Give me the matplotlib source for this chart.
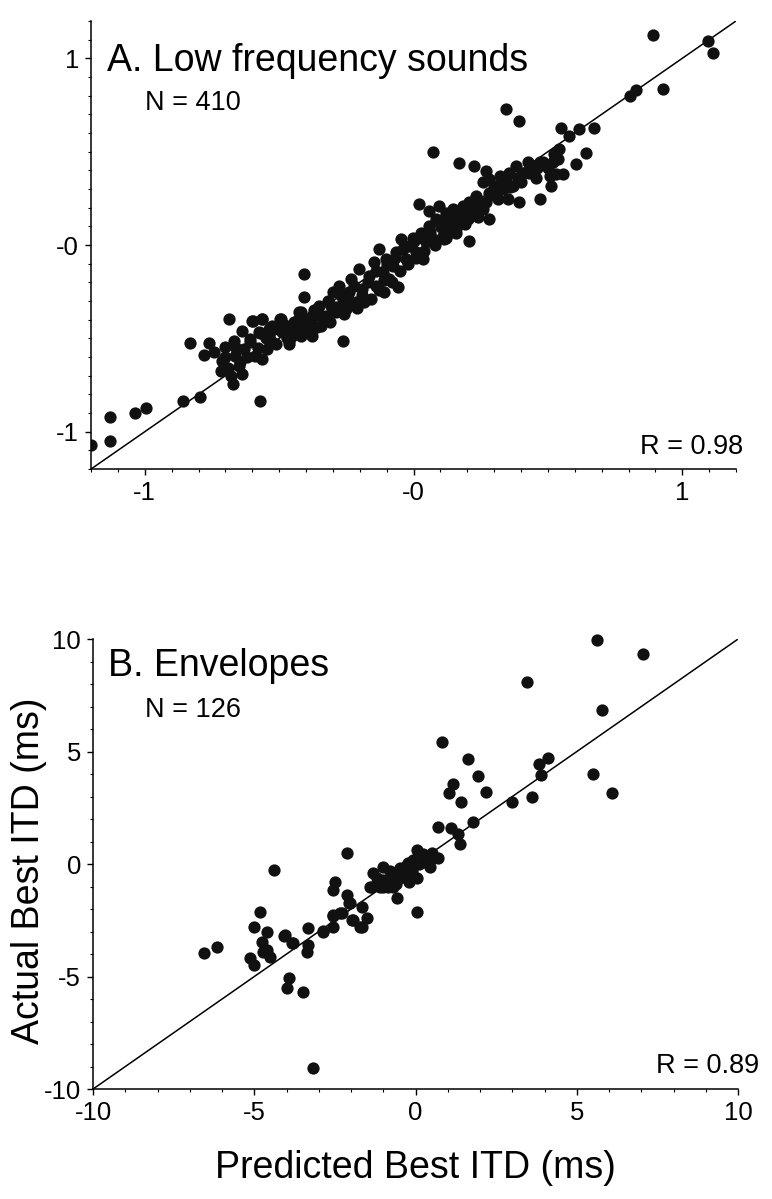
import numpy as np
import matplotlib
matplotlib.use("Agg")
import matplotlib.pyplot as plt

plt.rcParams["font.family"] = ["Liberation Sans", "DejaVu Sans"]
plt.rcParams["axes.unicode_minus"] = False

# A. Low frequency sounds (predicted vs actual best ITD, ms)
low_pred = [
    -1.20, -1.13, -1.13, -1.035, -0.996, -0.858, -0.795, -0.832, -0.686, -0.573,
    -0.672, -0.408, -0.407, -0.264,
    -0.762, -0.778, -0.743, -0.712, -0.718, -0.700, -0.669, -0.663, -0.681, -0.638,
    -0.644, -0.631, -0.638, -0.600, -0.563, -0.607, -0.588, -0.563, -0.545, -0.538,
    -0.526, -0.495, -0.501, -0.470, -0.464, -0.451, -0.433, -0.420, -0.408, -0.396,
    -0.377, -0.371, -0.358,
    -0.599, -0.562, -0.574, -0.537, -0.531, -0.494, -0.488, -0.463, -0.444, -0.425,
    -0.413, -0.382, -0.376, -0.351, -0.345, -0.326, -0.307, -0.301, -0.289, -0.276,
    -0.264, -0.251, -0.239, -0.233, -0.214, -0.202, -0.190, -0.183, -0.165, -0.146,
    -0.140, -0.127, -0.115, -0.109, -0.102, -0.090, -0.078, -0.059, -0.065, -0.047,
    -0.028, -0.016, -0.003, 0.009, 0.028, 0.034, 0.047, 0.059, 0.071, 0.084,
    0.102, 0.115, 0.121, 0.133, 0.146, 0.158, 0.171, 0.183, 0.201, 0.208,
    0.220, 0.233, 0.245,
    0.022, 0.059, 0.096, 0.208, 0.071, 0.345, 0.394,
    0.171, 0.226, 0.270, 0.257, 0.282, 0.121, 0.121, 0.146, 0.158, 0.196,
    0.257, 0.282, 0.282, 0.301, 0.313, 0.320, 0.332, 0.345, 0.351, 0.357,
    0.369, 0.382, 0.388, 0.394, 0.406, 0.425, 0.431, 0.450, 0.456, 0.469,
    0.469, 0.481, 0.506, 0.518, 0.524, 0.512, 0.531, 0.537, 0.543, 0.555,
    0.549, 0.580, 0.617, 0.673, 0.643, 0.603,
    0.804, 0.829, 0.930, 0.891, 1.095, 1.114,
    # dense core of the band
    -0.70, -0.69, -0.66, -0.65, -0.62, -0.61, -0.58, -0.57, -0.55, -0.52,
    -0.51, -0.49, -0.47, -0.45, -0.43, -0.42, -0.39, -0.37, -0.36, -0.34,
    -0.32, -0.31, -0.29, -0.27, -0.26, -0.24, -0.22, -0.21, -0.19, -0.17,
    -0.16, -0.14, -0.13, -0.11, -0.10, -0.08, -0.07, -0.05, -0.04, -0.02,
    0.00, 0.01, 0.03, 0.04, 0.06, 0.08, 0.10, 0.11, 0.13, 0.14,
    0.16, 0.18, 0.19, 0.22, 0.24, 0.27, 0.30, 0.33, 0.36, 0.40,
    0.43, 0.46, 0.50,
]
low_actual = [
    -1.07, -1.05, -0.92, -0.90, -0.875, -0.836, -0.813, -0.527, -0.396, -0.836,
    -0.746, -0.281, -0.156, -0.516,
    -0.527, -0.590, -0.575, -0.620, -0.673, -0.548, -0.513, -0.593, -0.700, -0.691,
    -0.629, -0.557, -0.459, -0.406, -0.397, -0.504, -0.593, -0.611, -0.557, -0.486,
    -0.433, -0.397, -0.450, -0.433, -0.531, -0.486, -0.433, -0.361, -0.397, -0.450,
    -0.486, -0.379, -0.343,
    -0.406, -0.397, -0.468, -0.450, -0.513, -0.397, -0.468, -0.513, -0.415, -0.361,
    -0.468, -0.468, -0.379, -0.326, -0.433, -0.379, -0.326, -0.254, -0.361, -0.219,
    -0.290, -0.343, -0.254, -0.183, -0.307, -0.129, -0.236, -0.307, -0.165, -0.093,
    -0.219, -0.022, -0.147, -0.254, -0.076, -0.183, -0.111, -0.227, -0.040, 0.031,
    -0.076, -0.004, 0.040, -0.040, 0.067, -0.076, 0.014, 0.102, 0.031, 0.138,
    0.094, 0.031, 0.174, 0.102, 0.192, 0.085, 0.156, 0.210, 0.138, 0.228,
    0.174, 0.263, 0.210,
    0.219, 0.183, 0.210, 0.022, 0.499, 0.727, 0.665,
    0.438, 0.424, 0.397, 0.335, 0.352, 0.156, 0.040, 0.102, 0.067, 0.138,
    0.192, 0.138, 0.281, 0.317, 0.245, 0.370, 0.299, 0.352, 0.245, 0.388,
    0.317, 0.424, 0.361, 0.228, 0.388, 0.442, 0.388, 0.424, 0.361, 0.442,
    0.245, 0.442, 0.370, 0.442, 0.486, 0.317, 0.379, 0.459, 0.513, 0.379,
    0.629, 0.584, 0.620, 0.629, 0.495, 0.433,
    0.798, 0.830, 0.834, 1.125, 1.093, 1.031,
    # dense core of the band
    -0.60, -0.66, -0.55, -0.65, -0.60, -0.52, -0.55, -0.47, -0.50, -0.45,
    -0.53, -0.42, -0.50, -0.45, -0.40, -0.49, -0.41, -0.35, -0.44, -0.38,
    -0.30, -0.41, -0.33, -0.27, -0.37, -0.30, -0.22, -0.34, -0.27, -0.20,
    -0.29, -0.14, -0.24, -0.19, -0.10, -0.20, -0.07, -0.14, -0.02, -0.10,
    0.02, -0.07, 0.04, -0.03, 0.07, 0.00, 0.12, 0.05, 0.15, 0.07,
    0.13, 0.17, 0.11, 0.20, 0.15, 0.23, 0.27, 0.33, 0.31, 0.34,
    0.40, 0.41, 0.41,
]

# B. Envelopes
env_pred = [
    5.64, 7.04, 3.46, 5.79, 0.81, 1.62, 1.95, 1.15, 1.03, 1.41,
    2.19, 3.84, 4.10, 3.89, 3.00, 3.62, 5.51, 6.10, 0.69, 1.09,
    1.33, 1.38, 1.79,
    0.04, 0.24, 0.45, 0.45, 0.71, -0.07, -0.27, -0.48, -0.12, -0.69,
    -1.00, -1.31, -1.36, -1.10, -0.84, -0.58, 0.04, 0.04, -1.00, -0.74,
    -0.89, -0.64, -0.48, -0.38, -0.22, -0.12, -0.69, -1.00, -0.80, -0.50,
    -0.30, 0.10, -0.20, 0.30, -1.20, -0.60, 0.50,
    -2.11, -4.38, -2.50, -2.55, -2.13, -2.03, -1.67, -2.55, -2.29, -1.98,
    -1.51, -1.67, -2.86, -2.55, -3.32, -3.32, -3.37, -4.05, -3.84, -4.82,
    -4.61, -4.77, -4.61, -4.51, -3.91, -3.98, -3.50, -6.56, -6.16, -5.01,
    -5.13, -5.01, -4.72, -3.19, -1.41, -1.71, -2.05, -2.34, -1.93, -2.88,
    -2.55, -3.81, -4.07,
]
env_actual = [
    9.96, 9.32, 8.08, 6.84, 5.41, 4.65, 3.91, 3.56, 3.14, 2.77,
    3.19, 4.44, 4.73, 3.96, 2.77, 2.99, 3.99, 3.17, 1.66, 1.59,
    1.32, 0.87, 1.88,
    0.62, 0.44, 0.18, -0.12, 0.25, 0.18, -0.04, -0.27, -0.27, -0.49,
    -0.12, -0.41, -1.01, -1.01, -1.01, -1.52, -0.64, -2.12, -0.71, -0.79,
    -0.71, -0.41, -0.19, -0.56, 0.03, -0.41, -1.01, -1.01, -0.30, -0.60,
    -0.30, 0.00, -0.80, 0.10, -0.60, -0.90, 0.50,
    0.47, -0.27, -0.79, -1.16, -1.38, -1.75, -1.90, -2.27, -2.19, -2.49,
    -2.41, -2.79, -3.01, -2.79, -2.86, -3.60, -3.90, -3.16, -3.50, -2.12,
    -3.01, -3.45, -3.82, -4.12, -5.08, -5.52, -5.67, -3.97, -3.67, -2.79,
    -4.19, -4.49, -3.90, -9.05, -1.01, -2.79, -1.72, -2.19, -2.49, -2.96,
    -2.31, -3.53, -3.19,
]

fig = plt.figure(figsize=(7.72, 11.99), dpi=100, facecolor="white")
dot = "#111111"


def style_axes(ax):
    ax.spines["top"].set_visible(False)
    ax.spines["right"].set_visible(False)
    ax.spines["left"].set_linewidth(1.1)
    ax.spines["bottom"].set_linewidth(1.1)
    ax.tick_params(which="major", direction="out", length=4.5, width=1.0,
                   labelsize=18.5, pad=4)
    ax.tick_params(which="minor", direction="out", length=2.2, width=0.8)


# panel A
ax = fig.add_axes([0.1179, 0.6088, 0.8355, 0.3737])
ax.plot([-1.2, 1.2], [-1.2, 1.2], color="black", lw=1.1, zorder=1)
ax.scatter(low_pred, low_actual, s=78, color=dot, linewidths=0, zorder=2)
ax.set_xlim(-1.2, 1.2)
ax.set_ylim(-1.2, 1.2)
ax.set_xticks([-1, 0, 1])
ax.set_xticklabels(["-1", "-0", "1"])
ax.set_yticks([-1, 0, 1])
ax.set_yticklabels(["-1", "-0", "1"])
ax.set_xticks(np.arange(-1.2, 1.21, 0.1), minor=True)
ax.set_yticks(np.arange(-1.2, 1.21, 0.1), minor=True)
style_axes(ax)
ax.text(0.025, 0.888, "A. Low frequency sounds", transform=ax.transAxes,
        fontsize=27, va="baseline", ha="left")
ax.text(0.084, 0.801, "N = 410", transform=ax.transAxes,
        fontsize=19.5, va="baseline", ha="left")
ax.text(1.011, 0.034, "R = 0.98", transform=ax.transAxes,
        fontsize=19.5, va="baseline", ha="right")

# panel B
ax = fig.add_axes([0.1205, 0.0917, 0.8355, 0.3753])
ax.plot([-10, 10], [-10, 10], color="black", lw=1.1, zorder=1)
ax.scatter(env_pred, env_actual, s=78, color=dot, linewidths=0, zorder=2,
           clip_on=False)
ax.set_xlim(-10, 10)
ax.set_ylim(-10, 10)
ax.set_xticks([-10, -5, 0, 5, 10])
ax.set_yticks([-10, -5, 0, 5, 10])
ax.set_xticks(np.arange(-10, 11, 1), minor=True)
ax.set_yticks(np.arange(-10, 11, 1), minor=True)
style_axes(ax)
ax.text(0.023, 0.918, "B. Envelopes", transform=ax.transAxes,
        fontsize=27, va="baseline", ha="left")
ax.text(0.081, 0.827, "N = 126", transform=ax.transAxes,
        fontsize=19.5, va="baseline", ha="left")
ax.text(1.033, 0.036, "R = 0.89", transform=ax.transAxes,
        fontsize=19.5, va="baseline", ha="right")

fig.text(0.538, 0.0175, "Predicted Best ITD (ms)", fontsize=27,
         ha="center", va="baseline")
fig.text(0.0376, 0.2736, "Actual Best ITD (ms)", fontsize=27,
         ha="center", va="center", rotation=90)

plt.savefig("out.png", dpi=100)
